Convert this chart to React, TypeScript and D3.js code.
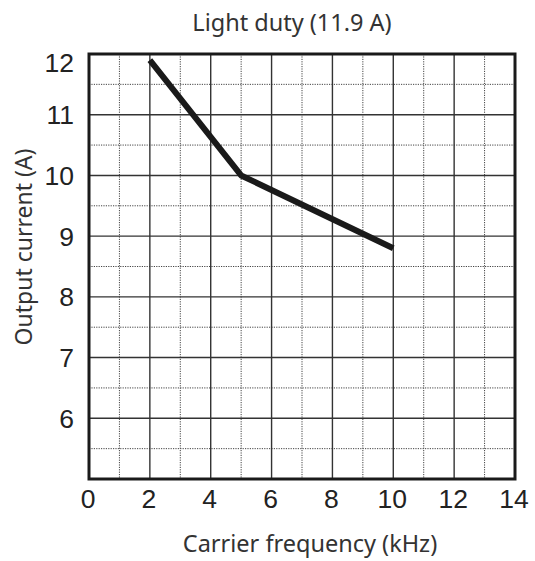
import React from "react";
import * as d3 from "d3";

// Derating curve: output current vs carrier frequency
const freqKHz = [2, 5, 10];
const currentA = [11.9, 10, 8.8];

const xTicks = [0, 2, 4, 6, 8, 10, 12, 14];
const yTicks = [6, 7, 8, 9, 10, 11, 12];
const xMinor = [1, 3, 5, 7, 9, 11, 13];
const yMinor = [5.5, 6.5, 7.5, 8.5, 9.5, 10.5, 11.5];

const title = "Light duty (11.9 A)";
const xTitle = "Carrier frequency (kHz)";
const yTitle = "Output current (A)";

const W = 535;
const H = 561;
const left = 89;
const right = 515;
const top = 54;
const bottom = 479;

export default function App() {
  const x = d3.scaleLinear().domain([0, 14]).range([left, right]);
  const y = d3.scaleLinear().domain([5, 12]).range([bottom, top]);

  const line = d3
    .line<number>()
    .x((_, i) => x(freqKHz[i]))
    .y((d) => y(d));

  const tickFont = "'Liberation Sans', Arial, sans-serif";
  const labelFont = "'Noto Sans', 'Open Sans', sans-serif";

  return (
    <svg
      width={W}
      height={H}
      style={{ position: "absolute", left: 0, top: 0, background: "#fff" }}
    >
      {/* minor dotted grid */}
      {xMinor.map((v) => (
        <line
          key={"xm" + v}
          x1={x(v)}
          x2={x(v)}
          y1={top}
          y2={bottom}
          stroke="#444"
          strokeWidth={1}
          strokeDasharray="1.2,1.2"
        />
      ))}
      {yMinor.map((v) => (
        <line
          key={"ym" + v}
          x1={left}
          x2={right}
          y1={y(v)}
          y2={y(v)}
          stroke="#444"
          strokeWidth={1}
          strokeDasharray="1.2,1.2"
        />
      ))}
      {/* major solid grid */}
      {xTicks.slice(1, -1).map((v) => (
        <line
          key={"xg" + v}
          x1={x(v)}
          x2={x(v)}
          y1={top}
          y2={bottom}
          stroke="#333"
          strokeWidth={1.4}
        />
      ))}
      {yTicks.slice(0, -1).map((v) => (
        <line
          key={"yg" + v}
          x1={left}
          x2={right}
          y1={y(v)}
          y2={y(v)}
          stroke="#333"
          strokeWidth={1.4}
        />
      ))}
      {/* frame */}
      <rect
        x={left}
        y={top}
        width={right - left}
        height={bottom - top}
        fill="none"
        stroke="#1a1a1a"
        strokeWidth={3}
      />
      {/* curve */}
      <path
        d={line(currentA) || ""}
        fill="none"
        stroke="#1a1a1a"
        strokeWidth={6}
        strokeLinejoin="round"
        strokeLinecap="butt"
      />
      {/* y tick labels */}
      {yTicks.map((v) => (
        <text
          key={"yt" + v}
          x={74}
          y={v === 12 ? y(v) + 8 : y(v)}
          dy="0.36em"
          textAnchor="end"
          fontFamily={tickFont}
          fontSize={26.5}
          fill="#222"
        >
          {v}
        </text>
      ))}
      {/* x tick labels */}
      {xTicks.map((v) => (
        <text
          key={"xt" + v}
          x={x(v) - 1}
          y={508}
          textAnchor="middle"
          fontFamily={tickFont}
          fontSize={26.5}
          fill="#222"
        >
          {v}
        </text>
      ))}
      <text
        x={292}
        y={31}
        textAnchor="middle"
        fontFamily={labelFont}
        fontSize={23.5}
        fill="#333"
      >
        {title}
      </text>
      <text
        x={310}
        y={552}
        textAnchor="middle"
        fontFamily={labelFont}
        fontSize={23.5}
        fill="#333"
      >
        {xTitle}
      </text>
      <text
        transform={`translate(32,247) rotate(-90)`}
        textAnchor="middle"
        fontFamily={labelFont}
        fontSize={23}
        fill="#333"
      >
        {yTitle}
      </text>
    </svg>
  );
}
